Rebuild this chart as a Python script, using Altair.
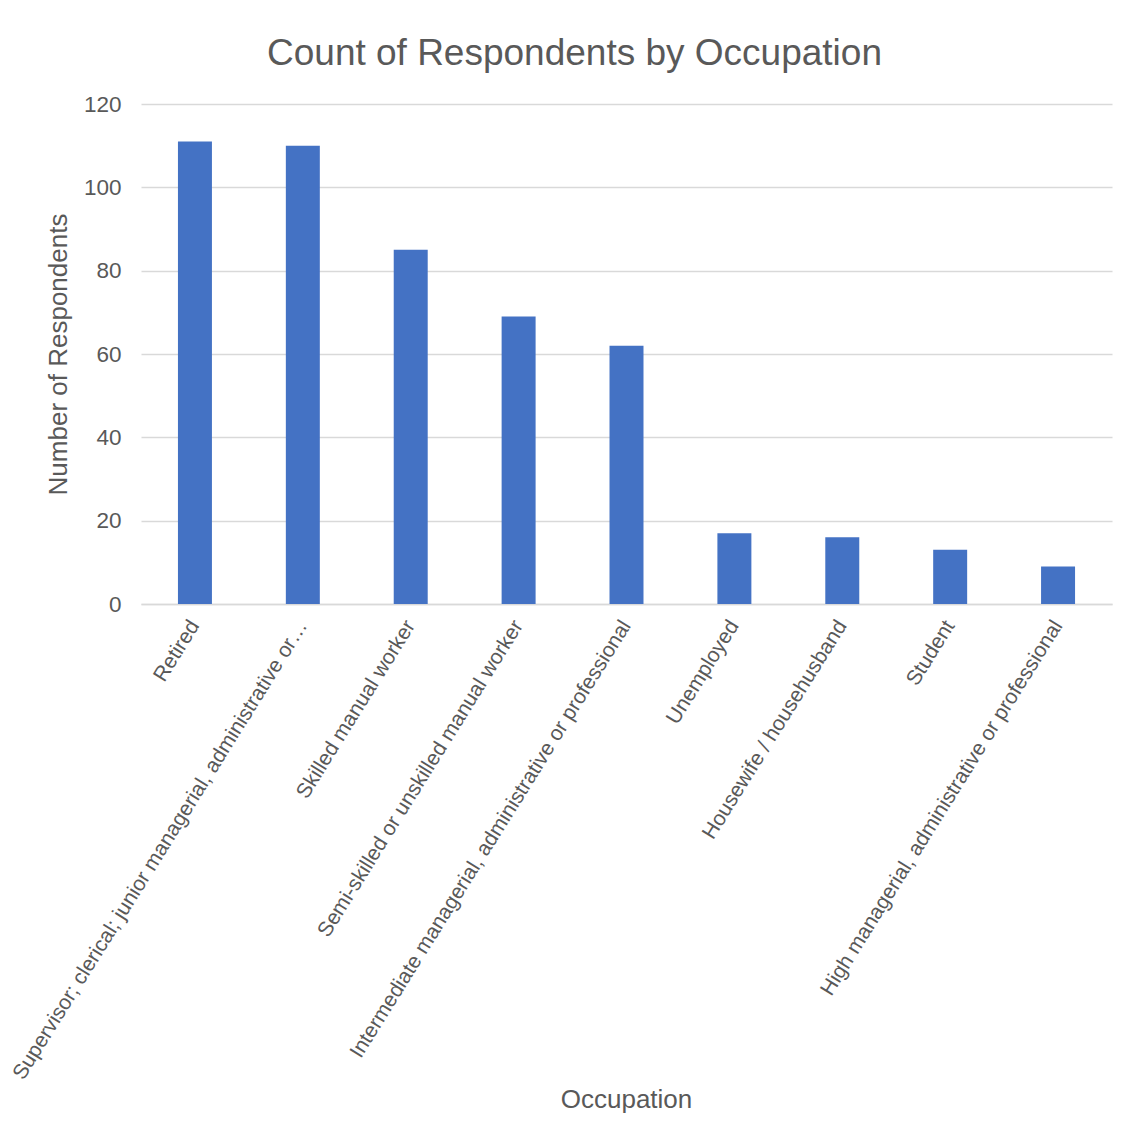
import altair as alt
import pandas as pd

occupations = [
    "Retired",
    "Supervisor; clerical; junior managerial, administrative or professional",
    "Skilled manual worker",
    "Semi-skilled or unskilled manual worker",
    "Intermediate managerial, administrative or professional",
    "Unemployed",
    "Housewife / househusband",
    "Student",
    "High managerial, administrative or professional",
]
counts = [111, 110, 85, 69, 62, 17, 16, 13, 9]

df = pd.DataFrame({"Occupation": occupations, "Count": counts})

FONT = "Liberation Sans"
TEXT = "#595959"
GRID = "#D9D9D9"

chart = (
    alt.Chart(df)
    .mark_bar(color="#4472C4")
    .encode(
        x=alt.X(
            "Occupation:N",
            sort=occupations,
            scale=alt.Scale(paddingInner=0.685, paddingOuter=0.3425),
            axis=alt.Axis(
                title="Occupation",
                labelAngle=-58,
                labelAlign="right",
                labelBaseline="middle",
                labelPadding=18,
                labelLimit=541,
                labelFontSize=21,
                labelColor=TEXT,
                labelFont=FONT,
                ticks=False,
                domainColor=GRID,
                domainWidth=1.5,
                titleFontSize=26,
                titleFont=FONT,
                titleColor=TEXT,
                titleFontWeight="normal",
                titleX=485,
                titleY=503,
                titleBaseline="alphabetic",
                titleAlign="center",
            ),
        ),
        y=alt.Y(
            "Count:Q",
            scale=alt.Scale(domain=[0, 120]),
            axis=alt.Axis(
                title="Number of Respondents",
                values=[0, 20, 40, 60, 80, 100, 120],
                labelFontSize=22.5,
                labelColor=TEXT,
                labelFont=FONT,
                labelPadding=20,
                ticks=False,
                domain=False,
                gridColor=GRID,
                gridWidth=1.5,
                titleFontSize=26,
                titleFont=FONT,
                titleColor=TEXT,
                titleFontWeight="normal",
                titleX=-75,
                titleY=250,
                titleAngle=-90,
                titleAlign="center",
                titleBaseline="alphabetic",
            ),
        ),
    )
    .properties(
        width=971,
        height=500,
        autosize=alt.AutoSizeParams(type="none"),
        padding={"left": 133, "top": 96, "right": 14, "bottom": 520},
        title=alt.TitleParams(
            "Count of Respondents by Occupation",
            font=FONT,
            fontSize=37,
            fontWeight="normal",
            color=TEXT,
            anchor="middle",
            dx=-52,
            dy=48,
            offset=39,
            baseline="alphabetic",
        ),
    )
    .configure(background="white")
    .configure_view(stroke=None)
)

chart.save("out.html", embed_options={"renderer": "svg", "actions": False})
